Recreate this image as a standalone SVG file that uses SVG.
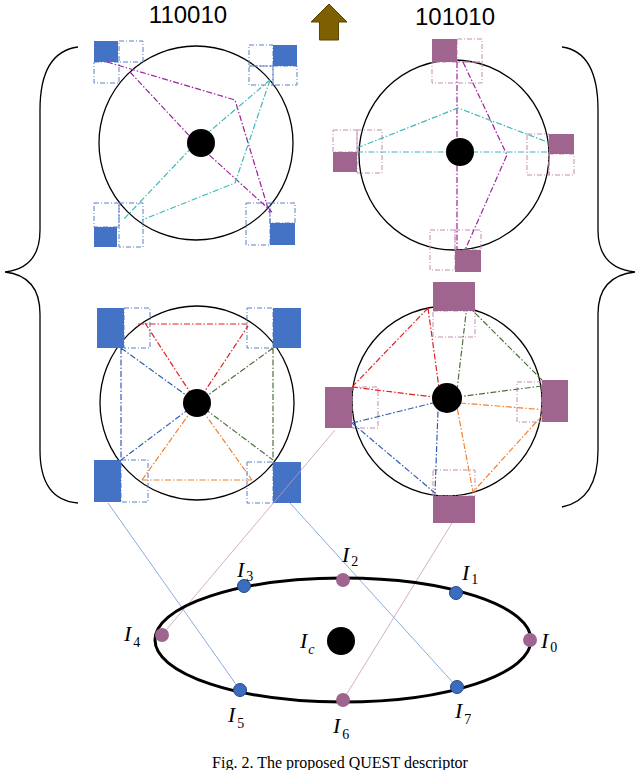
<svg xmlns="http://www.w3.org/2000/svg" width="640" height="770" viewBox="0 0 640 770">
<style>
.c{fill:none;stroke:#000;stroke-width:1.3}
.dot{fill:#000}
.bf{fill:#4472c4}
.pf{fill:#a0658f}
.bd{fill:none;stroke:#5b7fc4;stroke-width:1;stroke-dasharray:5,2,1,2}
.pd{fill:none;stroke:#c08fb0;stroke-width:1;stroke-dasharray:5,2,1,2}
.l{fill:none;stroke-width:1.2;stroke-dasharray:6,2,1.5,2}
.mg{stroke:#a020a0}.cy{stroke:#40b8b8}.rd{stroke:#e02020}.bl{stroke:#3060b0}.gr{stroke:#507040}.or{stroke:#f08030}
.t{font-family:"Liberation Sans",Arial,sans-serif;font-size:24px;fill:#000}
.i{font-family:"Liberation Serif","Times New Roman",serif;font-size:22px;font-style:italic}
.s{font-family:"Liberation Serif","Times New Roman",serif;font-size:14px}
</style>
<text class="t" x="188" y="23" text-anchor="middle">110010</text>
<text class="t" x="455" y="25" text-anchor="middle">101010</text>
<path d="M329,4 L347,22 L338.5,22 L338.5,40 L319.5,40 L319.5,22 L311,22 Z" fill="#7f6000" stroke="#5a4400"/>
<path class="c" d="M78,47 Q40,52 40,110 L40,230 Q40,268 5,272 Q40,276 40,314 L40,450 Q40,500 78,503"/>
<path class="c" d="M562,47 Q598,52 598,110 L598,230 Q598,268 635,272 Q598,276 598,314 L598,450 Q598,500 562,507"/>
<g id="d1">
<circle class="c" cx="196" cy="143" r="97"/>
<rect class="bd" x="119" y="41" width="24" height="21"/><rect class="bd" x="94" y="62" width="25" height="21"/>
<rect class="bd" x="249" y="45" width="24" height="21"/><rect class="bd" x="273" y="66" width="24" height="19"/><rect class="bd" x="249" y="66" width="24" height="19"/>
<rect class="bd" x="94" y="203" width="25" height="24"/><rect class="bd" x="119" y="203" width="24" height="44"/>
<rect class="bd" x="246" y="203" width="24" height="42"/><rect class="bd" x="270" y="203" width="25" height="20"/>
<rect class="bf" x="94" y="41" width="24" height="21"/><rect class="bf" x="273" y="45" width="24" height="21"/>
<rect class="bf" x="94" y="227" width="23" height="20"/><rect class="bf" x="270" y="223" width="25" height="22"/>
<path class="l mg" d="M107,62 L235,100 L270,215"/><path class="l mg" d="M130,72 L196,143 L272,212"/>
<path class="l cy" d="M270,80 L196,143 L123,220"/><path class="l cy" d="M270,80 L235,183 L142,220"/>
<circle class="dot" cx="201" cy="143" r="14"/>
</g>
<g id="d2">
<circle class="c" cx="454" cy="155" r="95"/>
<rect class="pd" x="457" y="39" width="25" height="23"/><rect class="pd" x="432" y="62" width="50" height="21"/>
<rect class="pd" x="333" y="130" width="24" height="22"/><rect class="pd" x="357" y="130" width="25" height="43"/>
<rect class="pd" x="527" y="134" width="22" height="41"/><rect class="pd" x="549" y="154" width="25" height="21"/>
<rect class="pd" x="430" y="230" width="25" height="40"/><rect class="pd" x="455" y="230" width="26" height="20"/>
<rect class="pf" x="432" y="39" width="25" height="23"/><rect class="pf" x="333" y="152" width="24" height="20"/>
<rect class="pf" x="549" y="134" width="25" height="20"/><rect class="pf" x="455" y="250" width="26" height="22"/>
<path class="l mg" d="M457,62 L457,250"/><path class="l mg" d="M463,62 L507,155 L465,250"/>
<path class="l cy" d="M357,152 L550,152"/><path class="l cy" d="M357,148 L458,108 L550,143"/>
<circle class="dot" cx="460" cy="152" r="14"/>
</g>
<g id="d3">
<circle class="c" cx="197" cy="403" r="97"/>
<rect class="bd" x="124" y="308" width="26" height="40"/><rect class="bd" x="247" y="308" width="26" height="40"/>
<rect class="bd" x="121" y="460" width="27" height="42"/><rect class="bd" x="247" y="462" width="26" height="41"/>
<path class="l rd" d="M138,324 L248,324 M145,323 L197,403 L248,326"/>
<path class="l bl" d="M121,348 L121,460 M121,348 L197,403 L121,460"/>
<path class="l gr" d="M273,348 L273,460 M273,348 L197,403 L273,460"/>
<path class="l or" d="M142,480 L252,480 M142,480 L197,403 L252,480"/>
<rect class="bf" x="97" y="308" width="27" height="40"/><rect class="bf" x="273" y="308" width="28" height="40"/>
<rect class="bf" x="94" y="460" width="27" height="42"/><rect class="bf" x="273" y="462" width="28" height="41"/>
<circle class="dot" cx="197" cy="403" r="14"/>
</g>
<g id="d4">
<circle class="c" cx="447" cy="401" r="95"/>
<rect class="pd" x="433" y="311" width="42" height="26"/><rect class="pd" x="352" y="387" width="26" height="41"/>
<rect class="pd" x="517" y="382" width="25" height="40"/><rect class="pd" x="433" y="470" width="42" height="26"/>
<path class="l rd" d="M428,308 L352,387 M428,308 L440,395 M352,387 L433,397"/>
<path class="l gr" d="M467,305 L457,390 M467,305 L542,380 M542,386 L457,397"/>
<path class="l or" d="M460,403 L547,410 L473,492 L457,407"/>
<path class="l bl" d="M352,423 L433,403 M352,423 L435,493 L438,410"/>
<rect class="pf" x="433" y="282" width="42" height="29"/><rect class="pf" x="325" y="387" width="27" height="41"/>
<rect class="pf" x="542" y="380" width="26" height="42"/><rect class="pf" x="433" y="496" width="42" height="27"/>
<circle class="dot" cx="447" cy="398" r="15"/>
</g>
<g id="connectors" fill="none" stroke-width="0.8">
<path d="M108,503 L240,690" stroke="#6f95d8"/>
<path d="M290,503 L457,687" stroke="#6f95d8"/>
<path d="M335,430 L162,635" stroke="#c79ab8"/>
<path d="M452,523 L343,700" stroke="#c79ab8"/>
</g>
<g id="ring">
<ellipse cx="343" cy="640" rx="188" ry="62" fill="none" stroke="#000" stroke-width="3"/>
<circle cx="341" cy="641" r="14" fill="#000"/>
<g fill="#a0658f"><circle cx="162" cy="635" r="7"/><circle cx="343" cy="580" r="7"/><circle cx="530" cy="640" r="7"/><circle cx="343" cy="700" r="7"/></g>
<g fill="#3a6cc0" stroke="#27498a"><circle cx="244" cy="586" r="6.5"/><circle cx="456" cy="593" r="6.5"/><circle cx="457" cy="687" r="6.5"/><circle cx="240" cy="690" r="6.5"/></g>
<text x="541" y="648"><tspan class="i">I</tspan><tspan class="s" dx="2" dy="4">0</tspan></text>
<text x="462" y="580"><tspan class="i">I</tspan><tspan class="s" dx="2" dy="4">1</tspan></text>
<text x="342" y="562"><tspan class="i">I</tspan><tspan class="s" dx="2" dy="4">2</tspan></text>
<text x="237" y="577"><tspan class="i">I</tspan><tspan class="s" dx="2" dy="4">3</tspan></text>
<text x="124" y="641"><tspan class="i">I</tspan><tspan class="s" dx="2" dy="6">4</tspan></text>
<text x="228" y="722"><tspan class="i">I</tspan><tspan class="s" dx="2" dy="6">5</tspan></text>
<text x="333" y="733"><tspan class="i">I</tspan><tspan class="s" dx="2" dy="6">6</tspan></text>
<text x="455" y="718"><tspan class="i">I</tspan><tspan class="s" dx="2" dy="6">7</tspan></text>
<text x="300" y="648"><tspan class="i">I</tspan><tspan class="s" dx="1" dy="6" font-style="italic">c</tspan></text>
</g>
<text x="340" y="768" text-anchor="middle" font-family="Liberation Serif,'Times New Roman',serif" font-size="16">Fig. 2. The proposed QUEST descriptor</text>
</svg>
